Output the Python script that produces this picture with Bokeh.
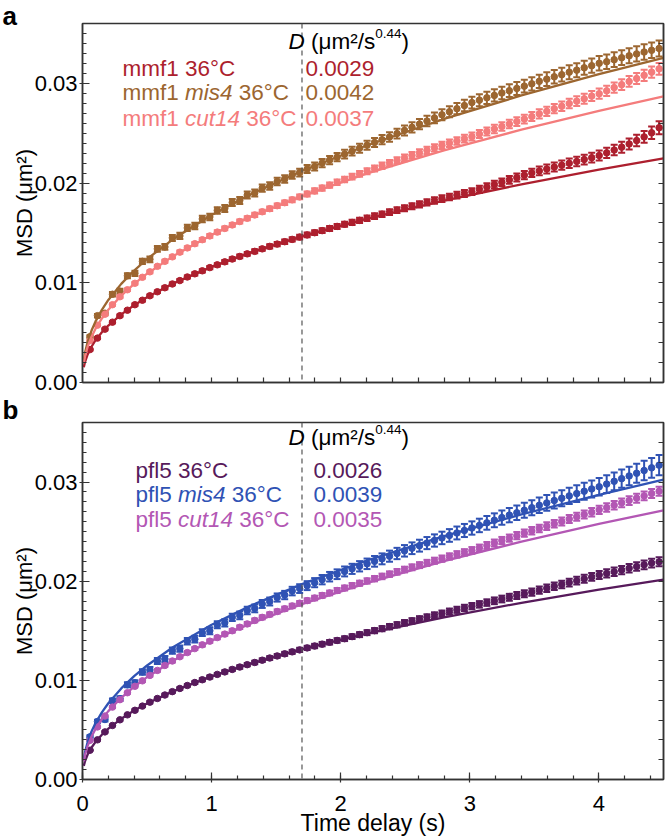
from bokeh.plotting import figure
from bokeh.models import (ColumnDataSource, Whisker, TeeHead, Span, Label, FixedTicker,
                          SingleIntervalTicker, LinearAxis, Range1d, NumeralTickFormatter)
from bokeh.layouts import column
from bokeh.embed import file_html
from bokeh.resources import INLINE

FONT = "Liberation Sans"

# ---------------- data (time delay in s, MSD and SEM in units of 1e-3 um^2) ----------------
time_delay = [0.058, 0.116, 0.174, 0.232, 0.290, 0.348, 0.406, 0.464, 0.522, 0.580,
              0.638, 0.696, 0.754, 0.812, 0.870, 0.928, 0.986, 1.044, 1.102, 1.160,
              1.218, 1.276, 1.334, 1.392, 1.450, 1.508, 1.566, 1.624, 1.682, 1.740,
              1.798, 1.856, 1.914, 1.972, 2.030, 2.088, 2.146, 2.204, 2.262, 2.320,
              2.378, 2.436, 2.494, 2.552, 2.610, 2.668, 2.726, 2.784, 2.842, 2.900,
              2.958, 3.016, 3.074, 3.132, 3.190, 3.248, 3.306, 3.364, 3.422, 3.480,
              3.538, 3.596, 3.654, 3.712, 3.770, 3.828, 3.886, 3.944, 4.002, 4.060,
              4.118, 4.176, 4.234, 4.292, 4.350, 4.408, 4.466]

msd_mmf1 = [3.30, 4.45, 5.35, 6.05, 6.70, 7.25, 7.80, 8.25, 8.70, 9.10,
            9.50, 9.88, 10.22, 10.58, 10.90, 11.20, 11.52, 11.80, 12.10, 12.38,
            12.64, 12.90, 13.15, 13.40, 13.65, 13.88, 14.12, 14.35, 14.58, 14.80,
            15.02, 15.23, 15.45, 15.65, 15.87, 16.05, 16.26, 16.47, 16.68, 16.88,
            17.08, 17.28, 17.48, 17.68, 17.87, 18.06, 18.25, 18.44, 18.61, 18.79,
            18.96, 19.14, 19.37, 19.61, 19.85, 20.08, 20.32, 20.55, 20.79, 21.02,
            21.22, 21.41, 21.60, 21.79, 21.98, 22.17, 22.36, 22.55, 22.76, 23.03,
            23.31, 23.60, 23.92, 24.26, 24.63, 25.04, 25.55]
sem_mmf1 = [0.08, 0.09, 0.10, 0.10, 0.11, 0.11, 0.12, 0.12, 0.13, 0.13,
            0.14, 0.14, 0.15, 0.15, 0.16, 0.16, 0.17, 0.17, 0.18, 0.18,
            0.19, 0.19, 0.20, 0.20, 0.21, 0.21, 0.22, 0.22, 0.23, 0.23,
            0.24, 0.24, 0.25, 0.25, 0.26, 0.26, 0.27, 0.27, 0.28, 0.28,
            0.29, 0.29, 0.30, 0.30, 0.31, 0.31, 0.32, 0.33, 0.33, 0.34,
            0.35, 0.35, 0.36, 0.37, 0.38, 0.38, 0.39, 0.40, 0.41, 0.42,
            0.43, 0.44, 0.45, 0.46, 0.47, 0.48, 0.49, 0.50, 0.51, 0.52,
            0.53, 0.55, 0.56, 0.58, 0.60, 0.62, 0.65]

msd_mmf1_mis4 = [4.60, 6.70, 6.95, 8.85, 9.15, 10.70, 10.95, 12.15, 12.35, 13.40,
                 13.60, 14.50, 14.70, 15.50, 15.70, 16.40, 16.60, 17.25, 17.45, 18.05,
                 18.25, 18.80, 19.00, 19.50, 19.70, 20.15, 20.40, 20.80, 21.05, 21.40,
                 21.65, 22.00, 22.30, 22.60, 22.90, 23.20, 23.50, 23.80, 24.07, 24.35,
                 24.62, 24.96, 25.28, 25.59, 25.91, 26.22, 26.53, 26.85, 27.15, 27.46,
                 27.77, 28.07, 28.31, 28.55, 28.79, 29.03, 29.26, 29.49, 29.72, 29.95,
                 30.20, 30.42, 30.66, 30.87, 31.12, 31.32, 31.56, 31.77, 32.01, 32.17,
                 32.37, 32.57, 32.76, 32.95, 33.14, 33.31, 33.50]
sem_mmf1_mis4 = [0.15, 0.18, 0.20, 0.22, 0.24, 0.25, 0.26, 0.27, 0.28, 0.29,
                 0.30, 0.30, 0.31, 0.31, 0.32, 0.32, 0.33, 0.33, 0.34, 0.34,
                 0.35, 0.35, 0.36, 0.36, 0.37, 0.37, 0.38, 0.38, 0.39, 0.40,
                 0.40, 0.41, 0.42, 0.42, 0.43, 0.44, 0.45, 0.45, 0.46, 0.47,
                 0.48, 0.49, 0.50, 0.51, 0.52, 0.53, 0.54, 0.55, 0.56, 0.57,
                 0.58, 0.59, 0.60, 0.61, 0.62, 0.63, 0.64, 0.65, 0.65, 0.66,
                 0.67, 0.68, 0.68, 0.69, 0.70, 0.70, 0.71, 0.72, 0.72, 0.73,
                 0.74, 0.74, 0.75, 0.76, 0.77, 0.78, 0.80]

msd_mmf1_cut14 = [4.20, 5.75, 6.85, 7.80, 8.60, 9.30, 9.95, 10.55, 11.10, 11.65,
                  12.15, 12.60, 13.07, 13.50, 13.92, 14.32, 14.70, 15.08, 15.45, 15.80,
                  16.14, 16.47, 16.80, 17.12, 17.43, 17.73, 18.03, 18.32, 18.61, 18.91,
                  19.21, 19.50, 19.79, 20.08, 20.36, 20.64, 20.92, 21.19, 21.46, 21.73,
                  22.00, 22.26, 22.52, 22.78, 23.03, 23.28, 23.53, 23.78, 24.00, 24.22,
                  24.45, 24.66, 24.91, 25.17, 25.42, 25.67, 25.92, 26.17, 26.42, 26.67,
                  26.94, 27.19, 27.46, 27.70, 27.97, 28.21, 28.45, 28.72, 28.96, 29.25,
                  29.57, 29.87, 30.19, 30.48, 30.80, 31.12, 31.45]
sem_mmf1_cut14 = [0.08, 0.09, 0.10, 0.11, 0.12, 0.12, 0.13, 0.13, 0.14, 0.14,
                  0.15, 0.15, 0.16, 0.16, 0.17, 0.17, 0.18, 0.18, 0.19, 0.19,
                  0.20, 0.20, 0.21, 0.21, 0.22, 0.22, 0.23, 0.24, 0.24, 0.25,
                  0.26, 0.26, 0.27, 0.28, 0.28, 0.29, 0.30, 0.30, 0.31, 0.32,
                  0.32, 0.33, 0.34, 0.34, 0.35, 0.36, 0.36, 0.37, 0.38, 0.38,
                  0.39, 0.40, 0.40, 0.41, 0.42, 0.42, 0.43, 0.44, 0.44, 0.45,
                  0.46, 0.46, 0.47, 0.48, 0.48, 0.49, 0.50, 0.50, 0.51, 0.52,
                  0.52, 0.53, 0.54, 0.55, 0.56, 0.57, 0.58]

msd_pfl5 = [2.95, 4.00, 4.80, 5.45, 6.02, 6.52, 6.98, 7.40, 7.80, 8.17,
            8.52, 8.86, 9.18, 9.48, 9.78, 10.06, 10.33, 10.60, 10.85, 11.10,
            11.34, 11.58, 11.80, 12.03, 12.25, 12.46, 12.67, 12.87, 13.07, 13.27,
            13.46, 13.65, 13.84, 14.02, 14.20, 14.41, 14.61, 14.81, 15.01, 15.21,
            15.41, 15.60, 15.80, 15.99, 16.18, 16.37, 16.56, 16.74, 16.93, 17.11,
            17.30, 17.48, 17.66, 17.84, 18.02, 18.20, 18.37, 18.55, 18.73, 18.90,
            19.09, 19.29, 19.48, 19.67, 19.86, 20.05, 20.24, 20.43, 20.62, 20.78,
            20.95, 21.12, 21.30, 21.47, 21.65, 21.82, 21.95]
sem_pfl5 = [0.06, 0.07, 0.08, 0.08, 0.09, 0.09, 0.10, 0.10, 0.11, 0.11,
            0.12, 0.12, 0.13, 0.13, 0.14, 0.14, 0.15, 0.15, 0.16, 0.16,
            0.17, 0.17, 0.18, 0.18, 0.19, 0.19, 0.20, 0.20, 0.21, 0.21,
            0.22, 0.22, 0.23, 0.23, 0.24, 0.24, 0.25, 0.25, 0.26, 0.26,
            0.27, 0.27, 0.28, 0.28, 0.29, 0.29, 0.30, 0.30, 0.31, 0.31,
            0.32, 0.32, 0.33, 0.33, 0.34, 0.34, 0.35, 0.35, 0.36, 0.36,
            0.37, 0.37, 0.38, 0.38, 0.39, 0.39, 0.40, 0.40, 0.41, 0.41,
            0.42, 0.42, 0.43, 0.43, 0.44, 0.44, 0.45]

msd_pfl5_mis4 = [4.30, 5.85, 6.05, 7.95, 8.15, 9.55, 9.75, 10.85, 11.05, 11.95,
                 12.15, 13.00, 13.20, 13.95, 14.15, 14.80, 15.00, 15.60, 15.80, 16.35,
                 16.55, 17.05, 17.25, 17.70, 17.95, 18.35, 18.60, 19.00, 19.25, 19.55,
                 19.85, 20.15, 20.45, 20.70, 20.98, 21.24, 21.50, 21.75, 22.00, 22.25,
                 22.52, 22.79, 23.06, 23.32, 23.58, 23.84, 24.10, 24.36, 24.61, 24.86,
                 25.11, 25.36, 25.62, 25.88, 26.14, 26.41, 26.66, 26.90, 27.15, 27.41,
                 27.65, 27.89, 28.13, 28.36, 28.60, 28.83, 29.07, 29.30, 29.52, 29.79,
                 30.07, 30.34, 30.61, 30.88, 31.16, 31.43, 31.70]
sem_pfl5_mis4 = [0.15, 0.18, 0.20, 0.22, 0.24, 0.26, 0.27, 0.28, 0.29, 0.30,
                 0.31, 0.32, 0.32, 0.33, 0.34, 0.34, 0.35, 0.36, 0.36, 0.37,
                 0.38, 0.38, 0.39, 0.40, 0.40, 0.41, 0.42, 0.43, 0.44, 0.45,
                 0.46, 0.47, 0.48, 0.49, 0.50, 0.51, 0.52, 0.53, 0.54, 0.55,
                 0.56, 0.57, 0.58, 0.59, 0.60, 0.61, 0.62, 0.63, 0.64, 0.65,
                 0.66, 0.67, 0.68, 0.69, 0.70, 0.72, 0.73, 0.74, 0.75, 0.76,
                 0.78, 0.79, 0.80, 0.81, 0.82, 0.84, 0.85, 0.86, 0.88, 0.89,
                 0.90, 0.92, 0.94, 0.96, 0.98, 1.00, 1.02]

msd_pfl5_cut14 = [3.95, 5.30, 6.40, 7.30, 8.05, 8.75, 9.40, 9.95, 10.50, 11.00,
                  11.50, 11.95, 12.38, 12.80, 13.20, 13.58, 13.95, 14.31, 14.66, 15.00,
                  15.35, 15.69, 16.04, 16.35, 16.65, 16.94, 17.22, 17.50, 17.78, 18.04,
                  18.30, 18.56, 18.81, 19.06, 19.31, 19.55, 19.79, 20.02, 20.25, 20.48,
                  20.71, 20.94, 21.17, 21.40, 21.62, 21.84, 22.06, 22.27, 22.49, 22.70,
                  22.90, 23.10, 23.35, 23.60, 23.85, 24.10, 24.34, 24.59, 24.84, 25.08,
                  25.32, 25.55, 25.79, 26.02, 26.26, 26.49, 26.72, 26.95, 27.19, 27.42,
                  27.66, 27.90, 28.13, 28.37, 28.60, 28.84, 29.07]
sem_pfl5_cut14 = [0.07, 0.08, 0.09, 0.10, 0.10, 0.11, 0.11, 0.12, 0.12, 0.13,
                  0.13, 0.14, 0.14, 0.15, 0.15, 0.16, 0.16, 0.17, 0.17, 0.18,
                  0.18, 0.19, 0.19, 0.20, 0.20, 0.21, 0.21, 0.22, 0.22, 0.23,
                  0.23, 0.24, 0.24, 0.25, 0.25, 0.26, 0.26, 0.27, 0.27, 0.28,
                  0.28, 0.29, 0.29, 0.30, 0.30, 0.31, 0.31, 0.32, 0.32, 0.33,
                  0.33, 0.34, 0.34, 0.35, 0.35, 0.36, 0.36, 0.37, 0.37, 0.38,
                  0.38, 0.39, 0.39, 0.40, 0.40, 0.41, 0.41, 0.42, 0.42, 0.43,
                  0.43, 0.44, 0.44, 0.45, 0.45, 0.46, 0.46]

# power-law fits MSD = 4 D t^0.44 (values in 1e-3 um^2)
fit_time = [0.01, 0.02, 0.04, 0.07, 0.1, 0.15, 0.2, 0.3, 0.4, 0.5,
            0.7, 1.0, 1.3, 1.7, 2.2, 2.8, 3.4, 4.0, 4.5]
fit_mmf1 = [1.529, 2.074, 2.814, 3.599, 4.212, 5.034, 5.714, 6.829, 7.751, 8.550,
            9.916, 11.600, 13.020, 14.651, 16.411, 18.247, 19.875, 21.349, 22.483]
fit_mmf1_mis4 = [2.214, 3.004, 4.076, 5.213, 6.100, 7.291, 8.276, 9.890, 11.226, 12.383,
                 14.361, 16.800, 18.856, 21.218, 23.767, 26.426, 28.785, 30.919, 32.562]
fit_mmf1_cut14 = [1.951, 2.646, 3.590, 4.592, 5.374, 6.423, 7.290, 8.713, 9.889, 10.909,
                  12.651, 14.800, 16.612, 18.692, 20.938, 23.280, 25.358, 27.238, 28.685]
fit_pfl5 = [1.371, 1.860, 2.523, 3.227, 3.776, 4.514, 5.123, 6.122, 6.949, 7.666,
            8.890, 10.400, 11.673, 13.135, 14.713, 16.359, 17.819, 19.140, 20.157]
fit_pfl5_mis4 = [2.056, 2.789, 3.785, 4.841, 5.664, 6.770, 7.685, 9.184, 10.424, 11.499,
                 13.335, 15.600, 17.509, 19.703, 22.069, 24.539, 26.729, 28.710, 30.236]
fit_pfl5_cut14 = [1.845, 2.503, 3.396, 4.344, 5.083, 6.076, 6.896, 8.242, 9.355, 10.319,
                  11.967, 14.000, 15.714, 17.682, 19.806, 22.022, 23.988, 25.766, 27.135]

strains_a = [["mmf1 36°C"], ["mmf1 ", "mis4", " 36°C"], ["mmf1 ", "cut14", " 36°C"]]
strains_b = [["pfl5 36°C"], ["pfl5 ", "mis4", " 36°C"], ["pfl5 ", "cut14", " 36°C"]]
D_a = [0.0029, 0.0042, 0.0037]
D_b = [0.0026, 0.0039, 0.0035]
alpha_exp = "0.44"
cutoff_time = 1.7
x_minor_ticks = [0.2, 0.4, 0.6, 0.8, 1.0, 1.2, 1.4, 1.6, 1.8, 2.0, 2.2, 2.4, 2.6, 2.8,
                 3.0, 3.2, 3.4, 3.6, 3.8, 4.0, 4.2, 4.4]
y_right_ticks = [0.002, 0.004, 0.006, 0.008, 0.010, 0.012, 0.014, 0.016, 0.018,
                 0.020, 0.022, 0.024, 0.026, 0.028, 0.030, 0.032, 0.034]

COL_A = ["#AD1F2E", "#9C6630", "#F47C7C"]
COL_B = ["#571A5B", "#2F52B4", "#B357B4"]

X_MAX = 4.5
Y_MAX = 0.036
FRAME_W = 581
FS = 22.5   # legend font size

# Arial / Liberation Sans advance widths (1/1000 em)
W = {' ': 278, '(': 333, ')': 333, '/': 278, '.': 278, '°': 400, '²': 333, 'μ': 576,
     'C': 722, 'D': 722, 'a': 556, 'c': 500, 'd': 556, 'e': 556, 'f': 278, 'i': 222,
     'l': 222, 'm': 833, 'p': 556, 's': 500, 't': 278, 'u': 556}


def text_w(s, size):
    return sum(W.get(ch, 556) for ch in s) * size / 1000.0


def add_pieces(p, frame_h, x_px, base_px, pieces, color):
    ppu_x = FRAME_W / X_MAX
    ppu_y = frame_h / Y_MAX
    off = 0.0
    for text, style, size, raise_px in pieces:
        lead = len(text) - len(text.lstrip(' '))
        shown = text.strip(' ')
        off_shown = off + text_w(' ' * lead, size)
        p.add_layout(Label(x=(x_px + off_shown) / ppu_x, y=Y_MAX - (base_px - raise_px) / ppu_y,
                           text=shown, text_font=FONT, text_font_size=f"{size}px",
                           text_font_style=style, text_color=color,
                           text_baseline="alphabetic", text_align="left"))
        off += text_w(text, size)


def style_axis(ax):
    ax.axis_line_color = "#333333"
    ax.axis_line_width = 1.5
    ax.major_tick_line_color = "#333333"
    ax.minor_tick_line_color = "#333333"
    ax.major_tick_line_width = 1.2
    ax.minor_tick_line_width = 1.2


def make_panel(letter, series, fits, strains, dvals, colors, height, btop, bbottom,
               title_standoff, show_x, row_x, val_x, row_base, head_base):
    frame_h = height - btop - bbottom
    p = figure(width=666, height=height, x_range=Range1d(0, X_MAX), y_range=Range1d(0, Y_MAX),
               output_backend="svg", toolbar_location=None,
               min_border_left=82, min_border_right=3, min_border_top=btop,
               min_border_bottom=bbottom)
    p.grid.visible = False
    p.outline_line_color = "#333333"
    p.outline_line_width = 1.5
    p.border_fill_color = "white"

    # panel letter as left-aligned title shifted into the left margin
    p.title.text = letter
    p.title.align = "left"
    p.title.offset = -80
    p.title.standoff = title_standoff
    p.title.text_font = FONT
    p.title.text_font_size = "26px"
    p.title.text_font_style = "bold"
    p.title.text_color = "black"

    xa = p.xaxis[0]
    style_axis(xa)
    if show_x:
        xa.ticker = SingleIntervalTicker(interval=1, num_minor_ticks=5)
        xa.major_tick_in = 7
        xa.major_tick_out = 3
        xa.minor_tick_in = 4
        xa.minor_tick_out = 0
        xa.major_label_text_font = FONT
        xa.major_label_text_color = "black"
        xa.major_label_text_font_size = "22px"
        xa.major_label_standoff = 13
        xa.axis_label = "Time delay (s)"
        xa.axis_label_text_font = FONT
        xa.axis_label_text_font_size = "23px"
        xa.axis_label_text_font_style = "normal"
        xa.axis_label_text_color = "black"
        xa.axis_label_standoff = -4
    else:
        xa.ticker = FixedTicker(ticks=[], minor_ticks=x_minor_ticks)
        xa.minor_tick_in = 5
        xa.minor_tick_out = 0

    ya = p.yaxis[0]
    style_axis(ya)
    ya.ticker = SingleIntervalTicker(interval=0.01, num_minor_ticks=10)
    ya.formatter = NumeralTickFormatter(format="0.00")
    ya.major_tick_in = 7
    ya.major_tick_out = 3
    ya.minor_tick_in = 4
    ya.minor_tick_out = 0
    ya.major_label_text_font = FONT
    ya.major_label_text_font_size = "22px"
    ya.major_label_text_color = "black"
    ya.major_label_standoff = 2
    ya.axis_label = "MSD (μm²)"
    ya.axis_label_text_font = FONT
    ya.axis_label_text_font_size = "22px"
    ya.axis_label_text_font_style = "normal"
    ya.axis_label_text_color = "black"
    ya.axis_label_standoff = -5

    ra = LinearAxis(ticker=FixedTicker(ticks=[], minor_ticks=y_right_ticks),
                    minor_tick_in=5, minor_tick_out=0)
    style_axis(ra)
    p.add_layout(ra, "right")

    p.add_layout(Span(location=cutoff_time, dimension="height", line_color="#555555",
                      line_width=1.2, line_dash="5 4"))

    for (msd, sem), c in zip(series, colors):
        y = [v / 1000.0 for v in msd]
        lo = [(v - e) / 1000.0 for v, e in zip(msd, sem)]
        hi = [(v + e) / 1000.0 for v, e in zip(msd, sem)]
        src = ColumnDataSource(dict(t=time_delay, y=y, lo=lo, hi=hi))
        p.add_layout(Whisker(base="t", upper="hi", lower="lo", source=src,
                             line_color=c, line_width=2,
                             upper_head=TeeHead(size=7, line_color=c, line_width=2),
                             lower_head=TeeHead(size=7, line_color=c, line_width=2)))
        p.scatter("t", "y", source=src, size=6.5, fill_color=c, line_color=c)

    for fit, c in zip(fits, colors):
        p.line(fit_time, [v / 1000.0 for v in fit], line_color=c, line_width=2.3)

    # legend texts
    for i, (parts, d, c) in enumerate(zip(strains, dvals, colors)):
        pieces = []
        for j, part in enumerate(parts):
            style = "italic" if (len(parts) == 3 and j == 1) else "normal"
            pieces.append((part, style, FS, 0))
        add_pieces(p, frame_h, row_x, row_base[i], pieces, c)
        add_pieces(p, frame_h, val_x, row_base[i], [(f"{d:.4f}", "normal", FS, 0)], c)
    add_pieces(p, frame_h, 206, head_base,
               [("D", "italic", FS, 0), (" (μm²/s", "normal", FS, 0),
                (alpha_exp, "normal", 13.5, 8), (")", "normal", FS, 0)], "black")
    return p


pa = make_panel("a",
                [(msd_mmf1, sem_mmf1), (msd_mmf1_mis4, sem_mmf1_mis4), (msd_mmf1_cut14, sem_mmf1_cut14)],
                [fit_mmf1, fit_mmf1_mis4, fit_mmf1_cut14], strains_a, D_a, COL_A,
                height=394, btop=23, bbottom=12, title_standoff=-15, show_x=False,
                row_x=40, val_x=223, row_base=[44.5, 68.8, 94.5], head_base=17.5)
pb = make_panel("b",
                [(msd_pfl5, sem_pfl5), (msd_pfl5_mis4, sem_pfl5_mis4), (msd_pfl5_cut14, sem_pfl5_cut14)],
                [fit_pfl5, fit_pfl5_mis4, fit_pfl5_cut14], strains_b, D_b, COL_B,
                height=444, btop=28, bbottom=58, title_standoff=-5, show_x=True,
                row_x=53, val_x=231, row_base=[48.3, 72.7, 97.3], head_base=15)

layout = column(pa, pb, spacing=0)
open("out.html", "w").write(file_html(layout, INLINE))
